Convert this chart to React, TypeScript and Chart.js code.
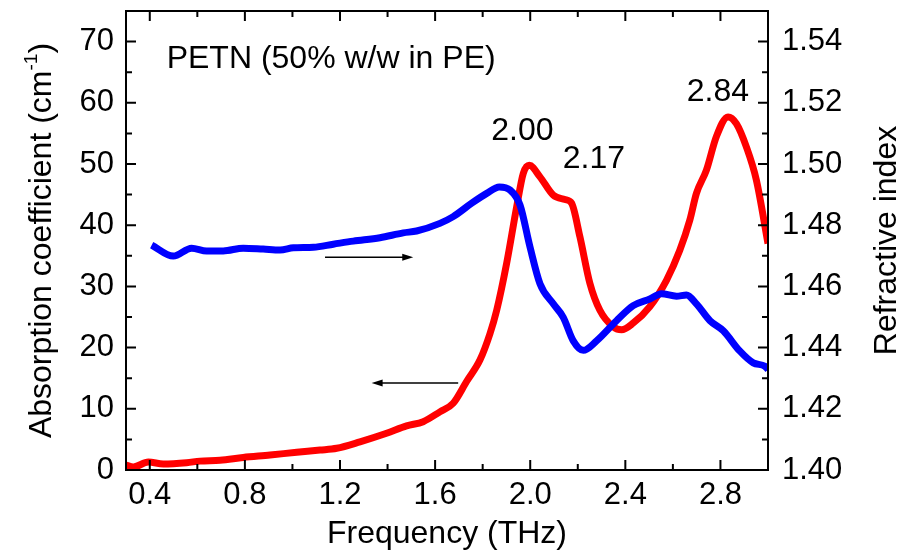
import { useEffect, useRef } from "react";
import { Chart, registerables } from "chart.js";
Chart.register(...registerables);

// Absorption coefficient (left axis, cm^-1) vs frequency (THz)
const absFreq = [0.3, 0.331, 0.394, 0.457, 0.555, 0.611, 0.695, 0.793, 0.906, 1.018, 1.116, 1.186, 1.284, 1.396, 1.48, 1.55, 1.62, 1.676, 1.733, 1.789, 1.831, 1.859, 1.901, 1.943, 1.971, 1.996, 2.041, 2.097, 2.146, 2.174, 2.209, 2.251, 2.293, 2.349, 2.384, 2.433, 2.503, 2.573, 2.629, 2.671, 2.699, 2.741, 2.783, 2.832, 2.867, 2.909, 2.951, 3.0];
const absorption = [0.8, 0.5, 1.3, 1.0, 1.2, 1.45, 1.6, 2.05, 2.45, 2.9, 3.25, 3.55, 4.6, 6.0, 7.2, 7.9, 9.5, 10.9, 14.5, 18.0, 22.3, 26.1, 33.8, 43.0, 48.5, 49.8, 47.9, 44.9, 44.2, 43.6, 38.1, 30.5, 26.1, 23.4, 22.9, 24.0, 26.7, 31.0, 35.9, 40.8, 45.2, 49.0, 54.5, 57.7, 56.6, 52.8, 47.4, 37.0];

// Refractive index (right axis) vs frequency (THz)
const riFreq = [0.408, 0.499, 0.576, 0.639, 0.709, 0.793, 0.877, 0.948, 1.004, 1.088, 1.172, 1.256, 1.368, 1.466, 1.522, 1.62, 1.676, 1.754, 1.817, 1.87, 1.915, 1.957, 1.999, 2.041, 2.097, 2.139, 2.181, 2.223, 2.279, 2.363, 2.433, 2.503, 2.552, 2.615, 2.657, 2.699, 2.756, 2.812, 2.881, 2.938, 2.987, 3.0];
const refractiveIndex = [1.4735, 1.4699, 1.4725, 1.4716, 1.4716, 1.4725, 1.4722, 1.4719, 1.4726, 1.4728, 1.4738, 1.4748, 1.4759, 1.4775, 1.4781, 1.4806, 1.4828, 1.4872, 1.4904, 1.4925, 1.4915, 1.4866, 1.4729, 1.4609, 1.4543, 1.4499, 1.4422, 1.4391, 1.4422, 1.4488, 1.4537, 1.4559, 1.4576, 1.4568, 1.4572, 1.4543, 1.4488, 1.4455, 1.4389, 1.435, 1.4339, 1.4328];

const xMajor = [0.4, 0.8, 1.2, 1.6, 2.0, 2.4, 2.8];
const xMinor = [0.6, 1.0, 1.4, 1.8, 2.2, 2.6];
const leftMajor = [0, 10, 20, 30, 40, 50, 60, 70];
const leftMinor = [5, 15, 25, 35, 45, 55, 65];
const rightMajor = [1.4, 1.42, 1.44, 1.46, 1.48, 1.5, 1.52, 1.54];
const rightMinor = [1.41, 1.43, 1.45, 1.47, 1.49, 1.51, 1.53];

const peakLabels = ["2.00", "2.17", "2.84"];
const peakX = [1.967, 2.268, 2.789];
const peakY = [55.4, 50.8, 61.8];

const sampleLabel = "PETN (50% w/w in PE)";
const sampleLabelAt = [0.471, 67.2];

// arrows: [x1, x2, leftAxisValue]
const arrowRight = [1.137, 1.508, 34.75];
const arrowLeft = [1.697, 1.333, 14.2];

const FONT = "'Liberation Sans', Arial, sans-serif";
const FS = 31;
const FT = 32;

export default function App() {
  const ref = useRef<HTMLCanvasElement | null>(null);
  useEffect(() => {
    document.body.style.margin = "0";
    const canvas = ref.current!;
    const overlay = {
      id: "overlay",
      afterDraw(chart: any) {
        const ctx = chart.ctx as CanvasRenderingContext2D;
        const a = chart.chartArea;
        const xs = chart.scales.x, yl = chart.scales.yL, yr = chart.scales.yR;
        ctx.save();
        ctx.strokeStyle = "#000";
        ctx.lineWidth = 2;
        ctx.strokeRect(a.left, a.top, a.right - a.left, a.bottom - a.top);
        ctx.beginPath();
        const tick = (vals: number[], len: number) => {
          vals.forEach((v) => {
            const px = xs.getPixelForValue(v);
            ctx.moveTo(px, a.bottom); ctx.lineTo(px, a.bottom - len);
            ctx.moveTo(px, a.top); ctx.lineTo(px, a.top + len);
          });
        };
        tick(xMajor, 10); tick(xMinor, 6);
        leftMajor.forEach((v) => { const py = yl.getPixelForValue(v); ctx.moveTo(a.left, py); ctx.lineTo(a.left + 10, py); });
        leftMinor.forEach((v) => { const py = yl.getPixelForValue(v); ctx.moveTo(a.left, py); ctx.lineTo(a.left + 6, py); });
        rightMajor.forEach((v) => { const py = yr.getPixelForValue(v); ctx.moveTo(a.right, py); ctx.lineTo(a.right - 10, py); });
        rightMinor.forEach((v) => { const py = yr.getPixelForValue(v); ctx.moveTo(a.right, py); ctx.lineTo(a.right - 6, py); });
        ctx.stroke();

        // annotations
        ctx.fillStyle = "#000";
        ctx.font = `${FT}px ${FONT}`;
        ctx.textBaseline = "middle";
        ctx.textAlign = "center";
        peakLabels.forEach((t, i) => {
          ctx.fillText(t, xs.getPixelForValue(peakX[i]), yl.getPixelForValue(peakY[i]));
        });
        ctx.textAlign = "left";
        ctx.fillText(sampleLabel, xs.getPixelForValue(sampleLabelAt[0]), yl.getPixelForValue(sampleLabelAt[1]));

        // arrows
        const arrow = (spec: number[]) => {
          const x1 = xs.getPixelForValue(spec[0]);
          const x2 = xs.getPixelForValue(spec[1]);
          const y = yl.getPixelForValue(spec[2]);
          const dir = Math.sign(x2 - x1);
          ctx.beginPath();
          ctx.lineWidth = 1.5;
          ctx.moveTo(x1, y); ctx.lineTo(x2 - dir * 8, y);
          ctx.stroke();
          ctx.beginPath();
          ctx.moveTo(x2, y);
          ctx.lineTo(x2 - dir * 11, y - 3.5);
          ctx.lineTo(x2 - dir * 11, y + 3.5);
          ctx.closePath();
          ctx.fill();
        };
        arrow(arrowRight);
        arrow(arrowLeft);

        // axis titles
        ctx.textAlign = "center";
        ctx.fillText("Frequency (THz)", (a.left + a.right) / 2, 534);
        const midY = (a.top + a.bottom) / 2;
        ctx.save();
        ctx.translate(887, midY);
        ctx.rotate(-Math.PI / 2);
        ctx.fillText("Refractive index", 0, 0);
        ctx.restore();

        ctx.save();
        ctx.translate(42, midY);
        ctx.rotate(-Math.PI / 2);
        const main = "Absorption coefficient (cm";
        const sup = "-1";
        const close = ")";
        const supSize = Math.round(FT * 0.6);
        ctx.font = `${FT}px ${FONT}`;
        const w1 = ctx.measureText(main).width;
        const w3 = ctx.measureText(close).width;
        ctx.font = `${supSize}px ${FONT}`;
        const w2 = ctx.measureText(sup).width;
        const total = w1 + w2 + w3;
        const x0 = -total / 2;
        ctx.textAlign = "left";
        ctx.font = `${FT}px ${FONT}`;
        ctx.fillText(main, x0, 0);
        ctx.font = `${supSize}px ${FONT}`;
        ctx.fillText(sup, x0 + w1, -10);
        ctx.font = `${FT}px ${FONT}`;
        ctx.fillText(close, x0 + w1 + w2, 0);
        ctx.restore();
        ctx.restore();
      },
    };

    const noPadY = (w: number) => (s: any) => { s.width = w; s.paddingTop = 0; s.paddingBottom = 0; };

    const chart = new Chart(canvas, {
      type: "line",
      data: {
        datasets: [
          {
            label: "n",
            data: riFreq.map((x, i) => ({ x, y: refractiveIndex[i] })),
            borderColor: "#0000ff",
            borderWidth: 7,
            pointRadius: 0,
            cubicInterpolationMode: "monotone",
            yAxisID: "yR",
          },
          {
            label: "alpha",
            data: absFreq.map((x, i) => ({ x, y: absorption[i] })),
            borderColor: "#ff0000",
            borderWidth: 7,
            pointRadius: 0,
            cubicInterpolationMode: "monotone",
            yAxisID: "yL",
          },
        ],
      },
      options: {
        responsive: false,
        animation: false,
        layout: { padding: { top: 11, left: 0, right: 0, bottom: 0 } },
        plugins: { legend: { display: false }, tooltip: { enabled: false } },
        scales: {
          x: {
            type: "linear",
            min: 0.3,
            max: 3.0,
            grid: { display: false, drawTicks: false },
            border: { display: false },
            afterBuildTicks: (s: any) => { s.ticks = xMajor.map((v) => ({ value: v })); },
            afterFit: (s: any) => { s.height = 83; s.paddingLeft = 0; s.paddingRight = 0; },
            ticks: {
              color: "#000",
              padding: 7,
              font: { family: FONT, size: FS },
              maxRotation: 0,
              callback: (v: any) => Number(v).toFixed(1),
            },
          },
          yL: {
            type: "linear",
            position: "left",
            min: 0,
            max: 75,
            grid: { display: false, drawTicks: false },
            border: { display: false },
            afterBuildTicks: (s: any) => { s.ticks = leftMajor.map((v) => ({ value: v })); },
            afterFit: noPadY(126),
            ticks: { color: "#000", padding: 12, font: { family: FONT, size: FS }, callback: (v: any) => String(v) },
          },
          yR: {
            type: "linear",
            position: "right",
            min: 1.4,
            max: 1.55,
            grid: { display: false, drawTicks: false },
            border: { display: false },
            afterBuildTicks: (s: any) => { s.ticks = rightMajor.map((v) => ({ value: v })); },
            afterFit: noPadY(144),
            ticks: { color: "#000", padding: 14, font: { family: FONT, size: FS }, callback: (v: any) => Number(v).toFixed(2) },
          },
        },
      } as any,
      plugins: [overlay],
    });
    return () => chart.destroy();
  }, []);
  return (
    <div style={{ position: "absolute", left: 0, top: 0, width: 912, height: 553, background: "#fff" }}>
      <canvas ref={ref} width={912} height={553} />
    </div>
  );
}
